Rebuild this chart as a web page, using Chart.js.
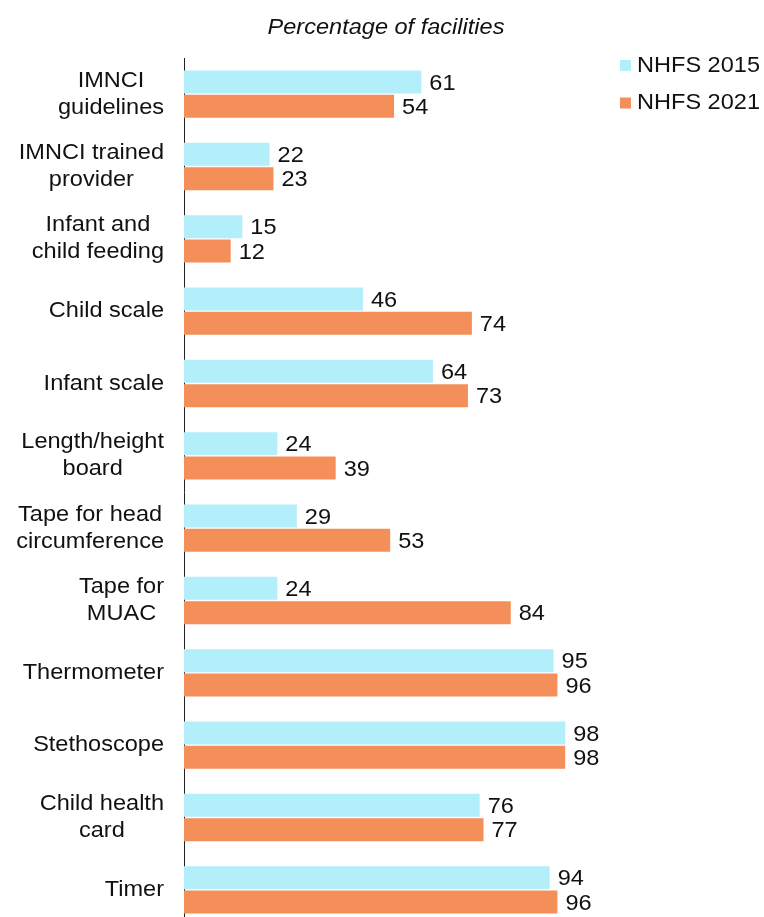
<!DOCTYPE html>
<html>
<head>
<meta charset="utf-8">
<script src="https://cdn.jsdelivr.net/npm/chart.js@4"></script>
<style>
	html, body { margin: 0; padding: 0; background: #fff; overflow: hidden; }
	#wrap { width: 764px; height: 926px; position: relative; }
</style>
</head>
<body>
<div id="wrap"><canvas id="chart"></canvas></div>
<script>
'use strict';

const chartTitle = 'Percentage of facilities';
const seriesNames = ['NHFS 2015', 'NHFS 2021'];
const categories = [
	['IMNCI', 'guidelines'],
	['IMNCI trained', 'provider'],
	['Infant and', 'child feeding'],
	['Child scale'],
	['Infant scale'],
	['Length/height', 'board'],
	['Tape for head', 'circumference'],
	['Tape for', 'MUAC'],
	['Thermometer'],
	['Stethoscope'],
	['Child health', 'card'],
	['Timer']
];
const nhfs2015 = [61, 22, 15, 46, 64, 24, 29, 24, 95, 98, 76, 94];
const nhfs2021 = [54, 23, 12, 74, 73, 39, 53, 84, 96, 98, 77, 96];

const FONT = '"Liberation Sans", Arial, sans-serif';
const FONT_SIZE = 22;
const TEXT_COLOR = '#111';
// the source picture is a little stretched sideways
const STRETCH = 1.07;

const drawText = function(ctx, text, x, y, align, italic) {
	ctx.save();
	ctx.translate(x, y);
	ctx.scale(STRETCH, 1);
	ctx.font = (italic ? 'italic ' : '') + FONT_SIZE + 'px ' + FONT;
	ctx.fillStyle = TEXT_COLOR;
	ctx.textAlign = align;
	ctx.textBaseline = 'middle';
	ctx.fillText(text, 0, 0);
	ctx.restore();
};

const textWidth = function(ctx, text) {
	ctx.save();
	ctx.font = FONT_SIZE + 'px ' + FONT;
	const w = ctx.measureText(text).width * STRETCH;
	ctx.restore();
	return w;
};

const decorations = {
	id: 'decorations',
	afterDraw(chart) {
		const ctx = chart.ctx;
		const yScale = chart.scales.y;

		// title
		drawText(ctx, chartTitle, 386, 28, 'center', true);

		// category labels: block right aligned, lines centred in the block
		const labelRight = 164;
		const lineGap = 27;
		categories.forEach((lines, i) => {
			const cy = yScale.getPixelForValue(i);
			let maxW = 0;
			lines.forEach(line => { maxW = Math.max(maxW, textWidth(ctx, line)); });
			const cx = labelRight - maxW / 2;
			const top = cy - (lines.length - 1) * lineGap / 2;
			lines.forEach((line, k) => drawText(ctx, line, cx, top + k * lineGap, 'center'));
		});

		// value labels
		chart.data.datasets.forEach((ds, di) => {
			const meta = chart.getDatasetMeta(di);
			meta.data.forEach((bar, i) => {
				drawText(ctx, String(ds.data[i]), bar.x + 8, bar.y + 1.5, 'left');
			});
		});

		// legend
		chart.data.datasets.forEach((ds, di) => {
			const y = 65.5 + di * 37.5;
			ctx.fillStyle = ds.backgroundColor;
			ctx.fillRect(620, y - 5.5, 11, 11);
			drawText(ctx, ds.label, 637, y, 'left');
		});
	}
};

new Chart(document.getElementById('chart'), {
	type: 'bar',
	data: {
		labels: categories.map(c => c.join(' ')),
		datasets: [
			{
				label: seriesNames[0],
				data: nhfs2015,
				backgroundColor: '#b3eefb',
				categoryPercentage: 0.674,
				barPercentage: 0.945
			},
			{
				label: seriesNames[1],
				data: nhfs2021,
				backgroundColor: '#f58f5a',
				categoryPercentage: 0.674,
				barPercentage: 0.945
			}
		]
	},
	options: {
		indexAxis: 'y',
		responsive: true,
		maintainAspectRatio: false,
		animation: false,
		layout: {
			padding: {top: 58, right: 191, bottom: 0, left: 0}
		},
		plugins: {
			legend: {display: false},
			title: {display: false},
			tooltip: {enabled: false}
		},
		scales: {
			x: {
				display: false,
				min: 0,
				max: 100
			},
			y: {
				grid: {display: false},
				border: {display: true, color: '#222', width: 1},
				ticks: {display: false},
				afterFit: (scale) => { scale.width = 184; }
			}
		}
	},
	plugins: [decorations]
});
</script>
</body>
</html>
